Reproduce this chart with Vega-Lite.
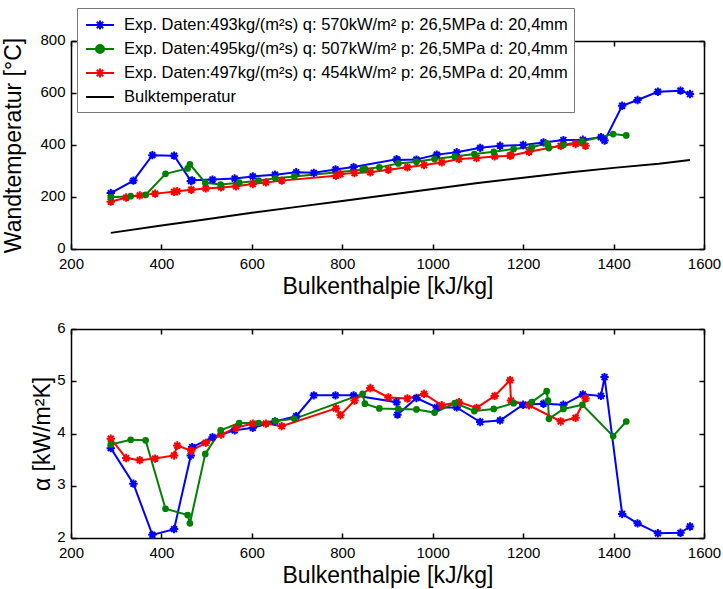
{
  "$schema": "https://vega.github.io/schema/vega-lite/v6.json",
  "padding": {"top": 7, "left": 2, "right": 5, "bottom": 3},
  "background": "white",
  "spacing": 22,
  "config": {
    "view": {"stroke": null},
    "font": "Liberation Sans",
    "axis": {"domainColor": "black", "tickColor": "black", "labelColor": "black", "titleColor": "black", "grid": false, "labelFont": "Liberation Sans", "titleFont": "Liberation Sans", "labelFontSize": 15, "titleFontSize": 23, "titleFontWeight": "normal", "tickSize": -5, "domainWidth": 1.5, "tickWidth": 1.5, "labelPadding": 11, "labelFlush": false, "format": "d"},
    "axisY": {"labelOffset": -2}
  },
  "datasets": {
    "temp": [
      {"s": "493", "h": 288, "t": 215}, {"s": "493", "h": 338, "t": 263}, {"s": "493", "h": 380, "t": 361}, {"s": "493", "h": 428, "t": 359}, {"s": "493", "h": 465, "t": 262}, {"s": "493", "h": 468, "t": 264}, {"s": "493", "h": 513, "t": 267}, {"s": "493", "h": 562, "t": 271}, {"s": "493", "h": 602, "t": 279}, {"s": "493", "h": 651, "t": 286}, {"s": "493", "h": 698, "t": 295}, {"s": "493", "h": 737, "t": 293}, {"s": "493", "h": 785, "t": 306}, {"s": "493", "h": 825, "t": 315}, {"s": "493", "h": 920, "t": 345}, {"s": "493", "h": 922, "t": 342}, {"s": "493", "h": 964, "t": 344}, {"s": "493", "h": 1009, "t": 363}, {"s": "493", "h": 1053, "t": 372}, {"s": "493", "h": 1105, "t": 389}, {"s": "493", "h": 1149, "t": 397}, {"s": "493", "h": 1200, "t": 400}, {"s": "493", "h": 1245, "t": 410}, {"s": "493", "h": 1289, "t": 419}, {"s": "493", "h": 1332, "t": 420}, {"s": "493", "h": 1372, "t": 430}, {"s": "493", "h": 1380, "t": 417}, {"s": "493", "h": 1419, "t": 551}, {"s": "493", "h": 1453, "t": 573}, {"s": "493", "h": 1498, "t": 605}, {"s": "493", "h": 1548, "t": 609}, {"s": "493", "h": 1569, "t": 596},
      {"s": "495", "h": 288, "t": 199}, {"s": "495", "h": 332, "t": 203}, {"s": "495", "h": 365, "t": 208}, {"s": "495", "h": 409, "t": 289}, {"s": "495", "h": 458, "t": 310}, {"s": "495", "h": 463, "t": 326}, {"s": "495", "h": 497, "t": 255}, {"s": "495", "h": 531, "t": 248}, {"s": "495", "h": 572, "t": 255}, {"s": "495", "h": 615, "t": 263}, {"s": "495", "h": 652, "t": 272}, {"s": "495", "h": 694, "t": 279}, {"s": "495", "h": 845, "t": 305}, {"s": "495", "h": 850, "t": 308}, {"s": "495", "h": 882, "t": 314}, {"s": "495", "h": 924, "t": 329}, {"s": "495", "h": 964, "t": 336}, {"s": "495", "h": 1004, "t": 346}, {"s": "495", "h": 1049, "t": 356}, {"s": "495", "h": 1092, "t": 365}, {"s": "495", "h": 1135, "t": 374}, {"s": "495", "h": 1179, "t": 385}, {"s": "495", "h": 1219, "t": 391}, {"s": "495", "h": 1252, "t": 406}, {"s": "495", "h": 1255, "t": 400}, {"s": "495", "h": 1257, "t": 388}, {"s": "495", "h": 1289, "t": 400}, {"s": "495", "h": 1331, "t": 414}, {"s": "495", "h": 1399, "t": 442}, {"s": "495", "h": 1428, "t": 437},
      {"s": "497", "h": 288, "t": 182}, {"s": "497", "h": 322, "t": 198}, {"s": "497", "h": 352, "t": 206}, {"s": "497", "h": 386, "t": 213}, {"s": "497", "h": 428, "t": 220}, {"s": "497", "h": 435, "t": 222}, {"s": "497", "h": 466, "t": 228}, {"s": "497", "h": 498, "t": 233}, {"s": "497", "h": 532, "t": 237}, {"s": "497", "h": 565, "t": 241}, {"s": "497", "h": 602, "t": 250}, {"s": "497", "h": 631, "t": 256}, {"s": "497", "h": 666, "t": 263}, {"s": "497", "h": 786, "t": 282}, {"s": "497", "h": 796, "t": 288}, {"s": "497", "h": 827, "t": 292}, {"s": "497", "h": 862, "t": 295}, {"s": "497", "h": 902, "t": 305}, {"s": "497", "h": 944, "t": 314}, {"s": "497", "h": 981, "t": 323}, {"s": "497", "h": 1020, "t": 333}, {"s": "497", "h": 1058, "t": 346}, {"s": "497", "h": 1097, "t": 350}, {"s": "497", "h": 1137, "t": 356}, {"s": "497", "h": 1171, "t": 359}, {"s": "497", "h": 1173, "t": 360}, {"s": "497", "h": 1213, "t": 374}, {"s": "497", "h": 1283, "t": 397}, {"s": "497", "h": 1316, "t": 404}, {"s": "497", "h": 1338, "t": 397},
      {"s": "Bulk", "h": 288, "t": 62}, {"s": "Bulk", "h": 400, "t": 90}, {"s": "Bulk", "h": 500, "t": 114}, {"s": "Bulk", "h": 600, "t": 139}, {"s": "Bulk", "h": 700, "t": 162}, {"s": "Bulk", "h": 800, "t": 185}, {"s": "Bulk", "h": 900, "t": 208}, {"s": "Bulk", "h": 1000, "t": 231}, {"s": "Bulk", "h": 1100, "t": 254}, {"s": "Bulk", "h": 1200, "t": 274}, {"s": "Bulk", "h": 1300, "t": 294}, {"s": "Bulk", "h": 1400, "t": 312}, {"s": "Bulk", "h": 1500, "t": 328}, {"s": "Bulk", "h": 1569, "t": 342}
    ],
    "alpha": [
      {"s": "493", "h": 288, "a": 3.72}, {"s": "493", "h": 338, "a": 3.04}, {"s": "493", "h": 380, "a": 2.06}, {"s": "493", "h": 428, "a": 2.17}, {"s": "493", "h": 465, "a": 3.58}, {"s": "493", "h": 468, "a": 3.74}, {"s": "493", "h": 513, "a": 3.93}, {"s": "493", "h": 562, "a": 4.06}, {"s": "493", "h": 602, "a": 4.11}, {"s": "493", "h": 651, "a": 4.23}, {"s": "493", "h": 698, "a": 4.33}, {"s": "493", "h": 737, "a": 4.73}, {"s": "493", "h": 785, "a": 4.73}, {"s": "493", "h": 825, "a": 4.73}, {"s": "493", "h": 920, "a": 4.6}, {"s": "493", "h": 922, "a": 4.36}, {"s": "493", "h": 964, "a": 4.68}, {"s": "493", "h": 1009, "a": 4.5}, {"s": "493", "h": 1053, "a": 4.5}, {"s": "493", "h": 1105, "a": 4.22}, {"s": "493", "h": 1149, "a": 4.25}, {"s": "493", "h": 1200, "a": 4.55}, {"s": "493", "h": 1245, "a": 4.57}, {"s": "493", "h": 1289, "a": 4.55}, {"s": "493", "h": 1332, "a": 4.75}, {"s": "493", "h": 1372, "a": 4.72}, {"s": "493", "h": 1380, "a": 5.08}, {"s": "493", "h": 1419, "a": 2.46}, {"s": "493", "h": 1453, "a": 2.28}, {"s": "493", "h": 1498, "a": 2.09}, {"s": "493", "h": 1548, "a": 2.1}, {"s": "493", "h": 1569, "a": 2.22},
      {"s": "495", "h": 288, "a": 3.79}, {"s": "495", "h": 332, "a": 3.88}, {"s": "495", "h": 365, "a": 3.87}, {"s": "495", "h": 409, "a": 2.56}, {"s": "495", "h": 458, "a": 2.44}, {"s": "495", "h": 463, "a": 2.28}, {"s": "495", "h": 497, "a": 3.61}, {"s": "495", "h": 531, "a": 4.06}, {"s": "495", "h": 572, "a": 4.2}, {"s": "495", "h": 615, "a": 4.2}, {"s": "495", "h": 652, "a": 4.24}, {"s": "495", "h": 694, "a": 4.28}, {"s": "495", "h": 845, "a": 4.76}, {"s": "495", "h": 850, "a": 4.57}, {"s": "495", "h": 882, "a": 4.48}, {"s": "495", "h": 924, "a": 4.47}, {"s": "495", "h": 964, "a": 4.46}, {"s": "495", "h": 1004, "a": 4.4}, {"s": "495", "h": 1049, "a": 4.58}, {"s": "495", "h": 1092, "a": 4.43}, {"s": "495", "h": 1135, "a": 4.47}, {"s": "495", "h": 1179, "a": 4.58}, {"s": "495", "h": 1219, "a": 4.6}, {"s": "495", "h": 1252, "a": 4.81}, {"s": "495", "h": 1255, "a": 4.63}, {"s": "495", "h": 1257, "a": 4.28}, {"s": "495", "h": 1289, "a": 4.47}, {"s": "495", "h": 1331, "a": 4.55}, {"s": "495", "h": 1399, "a": 3.95}, {"s": "495", "h": 1428, "a": 4.23},
      {"s": "497", "h": 288, "a": 3.9}, {"s": "497", "h": 322, "a": 3.53}, {"s": "497", "h": 352, "a": 3.49}, {"s": "497", "h": 386, "a": 3.52}, {"s": "497", "h": 428, "a": 3.58}, {"s": "497", "h": 435, "a": 3.77}, {"s": "497", "h": 466, "a": 3.67}, {"s": "497", "h": 498, "a": 3.82}, {"s": "497", "h": 532, "a": 3.98}, {"s": "497", "h": 565, "a": 4.11}, {"s": "497", "h": 602, "a": 4.19}, {"s": "497", "h": 631, "a": 4.19}, {"s": "497", "h": 666, "a": 4.14}, {"s": "497", "h": 786, "a": 4.48}, {"s": "497", "h": 796, "a": 4.35}, {"s": "497", "h": 827, "a": 4.63}, {"s": "497", "h": 862, "a": 4.87}, {"s": "497", "h": 902, "a": 4.69}, {"s": "497", "h": 944, "a": 4.67}, {"s": "497", "h": 981, "a": 4.76}, {"s": "497", "h": 1020, "a": 4.54}, {"s": "497", "h": 1058, "a": 4.6}, {"s": "497", "h": 1097, "a": 4.49}, {"s": "497", "h": 1137, "a": 4.72}, {"s": "497", "h": 1171, "a": 5.02}, {"s": "497", "h": 1173, "a": 4.63}, {"s": "497", "h": 1213, "a": 4.54}, {"s": "497", "h": 1283, "a": 4.23}, {"s": "497", "h": 1316, "a": 4.3}, {"s": "497", "h": 1338, "a": 4.67}
    ]
  },
  "vconcat": [
    {
      "width": 633,
      "height": 208,
      "data": {"name": "temp"},
      "layer": [
        {
          "mark": {"type": "line", "strokeWidth": 2},
          "encoding": {
            "x": {"field": "h", "type": "quantitative", "scale": {"domain": [200, 1600], "nice": false, "zero": false}, "axis": {"orient": "bottom", "values": [200, 400, 600, 800, 1000, 1200, 1400, 1600], "title": "Bulkenthalpie [kJ/kg]", "titlePadding": 4, "labelPadding": 12}},
            "y": {"field": "t", "type": "quantitative", "scale": {"domain": [0, 800], "nice": false}, "axis": {"orient": "left", "values": [0, 200, 400, 600, 800], "title": "Wandtemperatur [°C]", "titlePadding": 14}},
            "color": {
              "field": "s", "type": "nominal",
              "scale": {"domain": ["493", "495", "497", "Bulk"], "range": ["#0000ff", "#008000", "#ff0000", "#000000"]},
              "legend": {
                "orient": "none", "legendX": 6, "legendY": -33, "title": null,
                "fillColor": "white", "strokeColor": "#777777", "padding": 6, "zindex": 5,
                "labelFont": "Liberation Sans", "labelFontSize": 16.5, "labelColor": "black", "labelLimit": 0,
                "symbolSize": 400, "symbolStrokeWidth": 2, "rowPadding": 4, "labelOffset": 19,
                "labelExpr": "datum.value === '493' ? 'Exp. Daten:493kg/(m²s) q: 570kW/m² p: 26,5MPa d: 20,4mm' : datum.value === '495' ? 'Exp. Daten:495kg/(m²s) q: 507kW/m² p: 26,5MPa d: 20,4mm' : datum.value === '497' ? 'Exp. Daten:497kg/(m²s) q: 454kW/m² p: 26,5MPa d: 20,4mm' : 'Bulktemperatur'",
                "encode": {
                  "symbols": {
                    "update": {
                      "shape": {"signal": "datum.value === 'Bulk' ? 'M-0.8,0H2' : datum.value === '495' ? 'M-0.8,0H2M1,0A0.4,0.4,0,1,1,0.2,0A0.4,0.4,0,1,1,1,0Z' : 'M-0.8,0H2M0.15,0H1.05M0.6,-0.45V0.45M0.28,-0.32L0.92,0.32M0.28,0.32L0.92,-0.32'"},
                      "fill": {"scale": "color", "field": "value"},
                      "stroke": {"scale": "color", "field": "value"},
                      "strokeWidth": {"value": 2}
                    }
                  }
                }
              }
            }
          }
        },
        {
          "transform": [{"filter": "datum.s === '493' || datum.s === '497'"}],
          "mark": {"type": "point", "shape": "M-1,0H1M0,-1V1M-0.7,-0.7L0.7,0.7M-0.7,0.7L0.7,-0.7", "filled": false, "strokeWidth": 2, "size": 70, "opacity": 1},
          "encoding": {
            "x": {"field": "h", "type": "quantitative", "axis": {"orient": "top", "values": [200, 400, 600, 800, 1000, 1200, 1400, 1600], "labels": false, "title": null}},
            "y": {"field": "t", "type": "quantitative", "axis": {"orient": "right", "values": [0, 200, 400, 600, 800], "labels": false, "title": null}},
            "color": {"field": "s", "type": "nominal", "legend": null}
          }
        },
        {
          "transform": [{"filter": "datum.s === '495'"}],
          "mark": {"type": "point", "shape": "circle", "filled": true, "size": 45, "opacity": 1},
          "encoding": {
            "x": {"field": "h", "type": "quantitative", "axis": null},
            "y": {"field": "t", "type": "quantitative", "axis": null},
            "color": {"field": "s", "type": "nominal", "legend": null}
          }
        }
      ],
      "resolve": {"axis": {"x": "independent", "y": "independent"}}
    },
    {
      "width": 633,
      "height": 209,
      "data": {"name": "alpha"},
      "layer": [
        {
          "mark": {"type": "line", "strokeWidth": 2},
          "encoding": {
            "x": {"field": "h", "type": "quantitative", "scale": {"domain": [200, 1600], "nice": false, "zero": false}, "axis": {"orient": "bottom", "values": [200, 400, 600, 800, 1000, 1200, 1400, 1600], "title": "Bulkenthalpie [kJ/kg]", "titlePadding": 4, "labelPadding": 12}},
            "y": {"field": "a", "type": "quantitative", "scale": {"domain": [2, 6], "nice": false, "zero": false}, "axis": {"orient": "left", "values": [2, 3, 4, 5, 6], "title": "α [kW/m²K]", "titlePadding": 2}},
            "color": {"field": "s", "type": "nominal", "legend": null}
          }
        },
        {
          "transform": [{"filter": "datum.s === '493' || datum.s === '497'"}],
          "mark": {"type": "point", "shape": "M-1,0H1M0,-1V1M-0.7,-0.7L0.7,0.7M-0.7,0.7L0.7,-0.7", "filled": false, "strokeWidth": 2, "size": 70, "opacity": 1},
          "encoding": {
            "x": {"field": "h", "type": "quantitative", "axis": {"orient": "top", "values": [200, 400, 600, 800, 1000, 1200, 1400, 1600], "labels": false, "title": null}},
            "y": {"field": "a", "type": "quantitative", "axis": {"orient": "right", "values": [2, 3, 4, 5, 6], "labels": false, "title": null}},
            "color": {"field": "s", "type": "nominal", "legend": null}
          }
        },
        {
          "transform": [{"filter": "datum.s === '495'"}],
          "mark": {"type": "point", "shape": "circle", "filled": true, "size": 45, "opacity": 1},
          "encoding": {
            "x": {"field": "h", "type": "quantitative", "axis": null},
            "y": {"field": "a", "type": "quantitative", "axis": null},
            "color": {"field": "s", "type": "nominal", "legend": null}
          }
        }
      ],
      "resolve": {"axis": {"x": "independent", "y": "independent"}}
    }
  ]
}
